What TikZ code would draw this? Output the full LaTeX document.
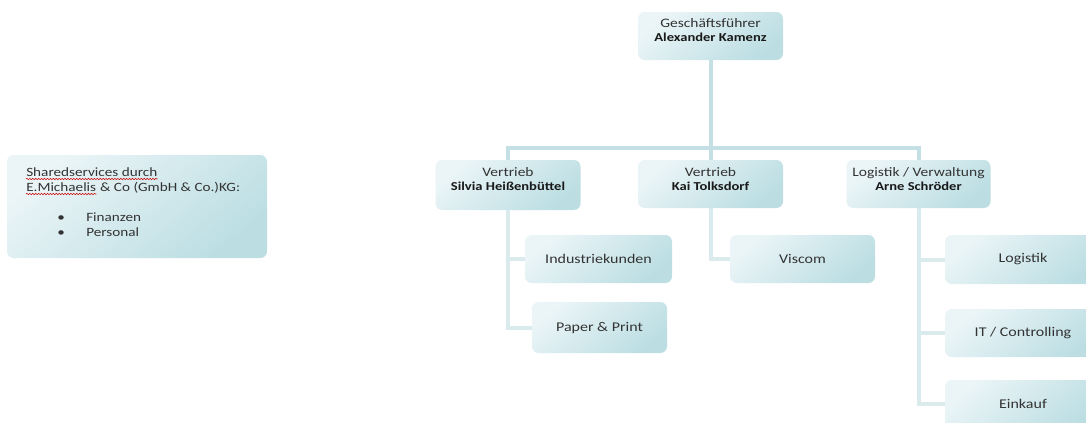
\documentclass[tikz,border=0pt]{standalone}
\usepackage{fontspec}
\setmainfont{Carlito}[FakeStretch=1.2]
\usetikzlibrary{backgrounds,calc,decorations.pathmorphing}
\definecolor{boxlight}{HTML}{EBF5F7}
\definecolor{boxmid}{HTML}{E1F0F2}
\definecolor{boxdark}{HTML}{BCDEE3}
\definecolor{linec}{HTML}{C4E0E4}
\definecolor{linesub}{HTML}{DAEBEE}
\definecolor{txt}{HTML}{333333}
\newcommand\nmfont{\fontsize{9.1}{10.5}\selectfont\bfseries\color{black!90}}
\begin{document}
\begin{tikzpicture}[x=0.75pt,y=-0.75pt,
  orgbox/.style={rectangle, rounded corners=5pt, top color=boxlight, middle color=boxmid, bottom color=boxdark, shading angle=40, draw=none, inner sep=0pt},
  lbl/.style={align=center, text=txt, inner sep=0pt, font=\fontsize{9.7}{10.5}\selectfont},
  sub/.style={text=txt, inner sep=0pt, font=\fontsize{10}{12}\selectfont},
  shtxt/.style={text=txt, inner sep=0pt, anchor=base west, font=\fontsize{9.5}{11}\selectfont},
  conn/.style={draw=linec, line width=3pt},
  subconn/.style={draw=linesub, line width=3pt},
  wavy/.style={draw=red!80!black, line width=0.4pt, decorate, decoration={snake, amplitude=0.5pt, segment length=2.2pt}}
]
\useasboundingbox (0,0) rectangle (1086,422);
\clip (0,0) rectangle (1086,422);

% left box
\node[orgbox, minimum width={260*0.75pt}, minimum height={103*0.75pt}] (shared) at (137,206.5) {};
\node[shtxt] (sh1) at (26,176) {Sharedservices durch};
\node[shtxt] (sh2a) at (26,191) {E.Michaelis};
\node[shtxt] (sh2b) at (sh2a.base east) {\ \& Co (GmbH \& Co.)KG:};
\node[shtxt] (b1) at (57,221) {•};
\node[shtxt] (f1) at (86,221) {Finanzen};
\node[shtxt] (b2) at (57,236) {•};
\node[shtxt] (f2) at (86,236) {Personal};
\draw[wavy] ($(sh1.base west)+(0,3)$) -- ($(sh1.base east)+(0,3)$);
\draw[wavy] ($(sh2a.base west)+(0,3)$) -- ($(sh2a.base east)+(0,3)$);

% top
\node[orgbox, minimum width={145*0.75pt}, minimum height={48*0.75pt}] (gf) at (710.5,36) {};
\node[lbl] (gft) at ($(gf.center)+(0,-6)$) {Geschäftsführer\\{\nmfont Alexander Kamenz}};

% level 2
\node[orgbox, minimum width={145*0.75pt}, minimum height={50*0.75pt}] (v1) at (508,185) {};
\node[lbl] (v1t) at ($(v1.center)+(0,-6)$) {Vertrieb\\{\nmfont Silvia Heißenbüttel}};
\node[orgbox, minimum width={145*0.75pt}, minimum height={48*0.75pt}] (v2) at (710.5,184) {};
\node[lbl] (v2t) at ($(v2.center)+(0,-5)$) {Vertrieb\\{\nmfont Kai Tolksdorf}};
\node[orgbox, minimum width={144*0.75pt}, minimum height={48*0.75pt}] (v3) at (918.5,184) {};
\node[lbl] (v3t) at ($(v3.center)+(0,-5)$) {Logistik / Verwaltung\\{\nmfont Arne Schröder}};

% level 3
\node[orgbox, minimum width={147*0.75pt}, minimum height={48*0.75pt}] (ik) at (598.5,259) {};
\node[sub] (ikt) at (ik.center) {Industriekunden};
\node[orgbox, minimum width={135*0.75pt}, minimum height={51*0.75pt}] (pp) at (599.5,327.5) {};
\node[sub] (ppt) at (pp.center) {Paper \& Print};
\node[orgbox, minimum width={145*0.75pt}, minimum height={48*0.75pt}] (vis) at (802.5,259) {};
\node[sub] (vist) at (vis.center) {Viscom};
\node[orgbox, minimum width={156*0.75pt}, minimum height={49*0.75pt}] (lg) at (1023,259.5) {};
\node[sub] (lgt) at (lg.center) {Logistik};
\node[orgbox, minimum width={156*0.75pt}, minimum height={48*0.75pt}] (it) at (1023,333) {};
\node[sub] (itt) at (it.center) {IT / Controlling};
\node[orgbox, minimum width={156*0.75pt}, minimum height={48*0.75pt}] (ek) at (1023,404) {};
\node[sub] (ekt) at (ek.center) {Einkauf};

\coordinate (bus) at (0,148);
\begin{scope}[on background layer]
  \draw[conn] (gf.south) -- (v2.north);
  \draw[conn] (v1.north) |- (bus -| gf.south) -| (v3.north);
  \draw[subconn] (v1.south) |- (pp.west);
  \draw[subconn] (v1.south |- ik.west) -- (ik.west);
  \draw[subconn] (v2.south) |- (vis.west);
  \draw[subconn] (v3.south) |- (ek.west);
  \draw[subconn] (v3.south |- lg.west) -- (lg.west);
  \draw[subconn] (v3.south |- it.west) -- (it.west);
\end{scope}
\end{tikzpicture}
\end{document}
